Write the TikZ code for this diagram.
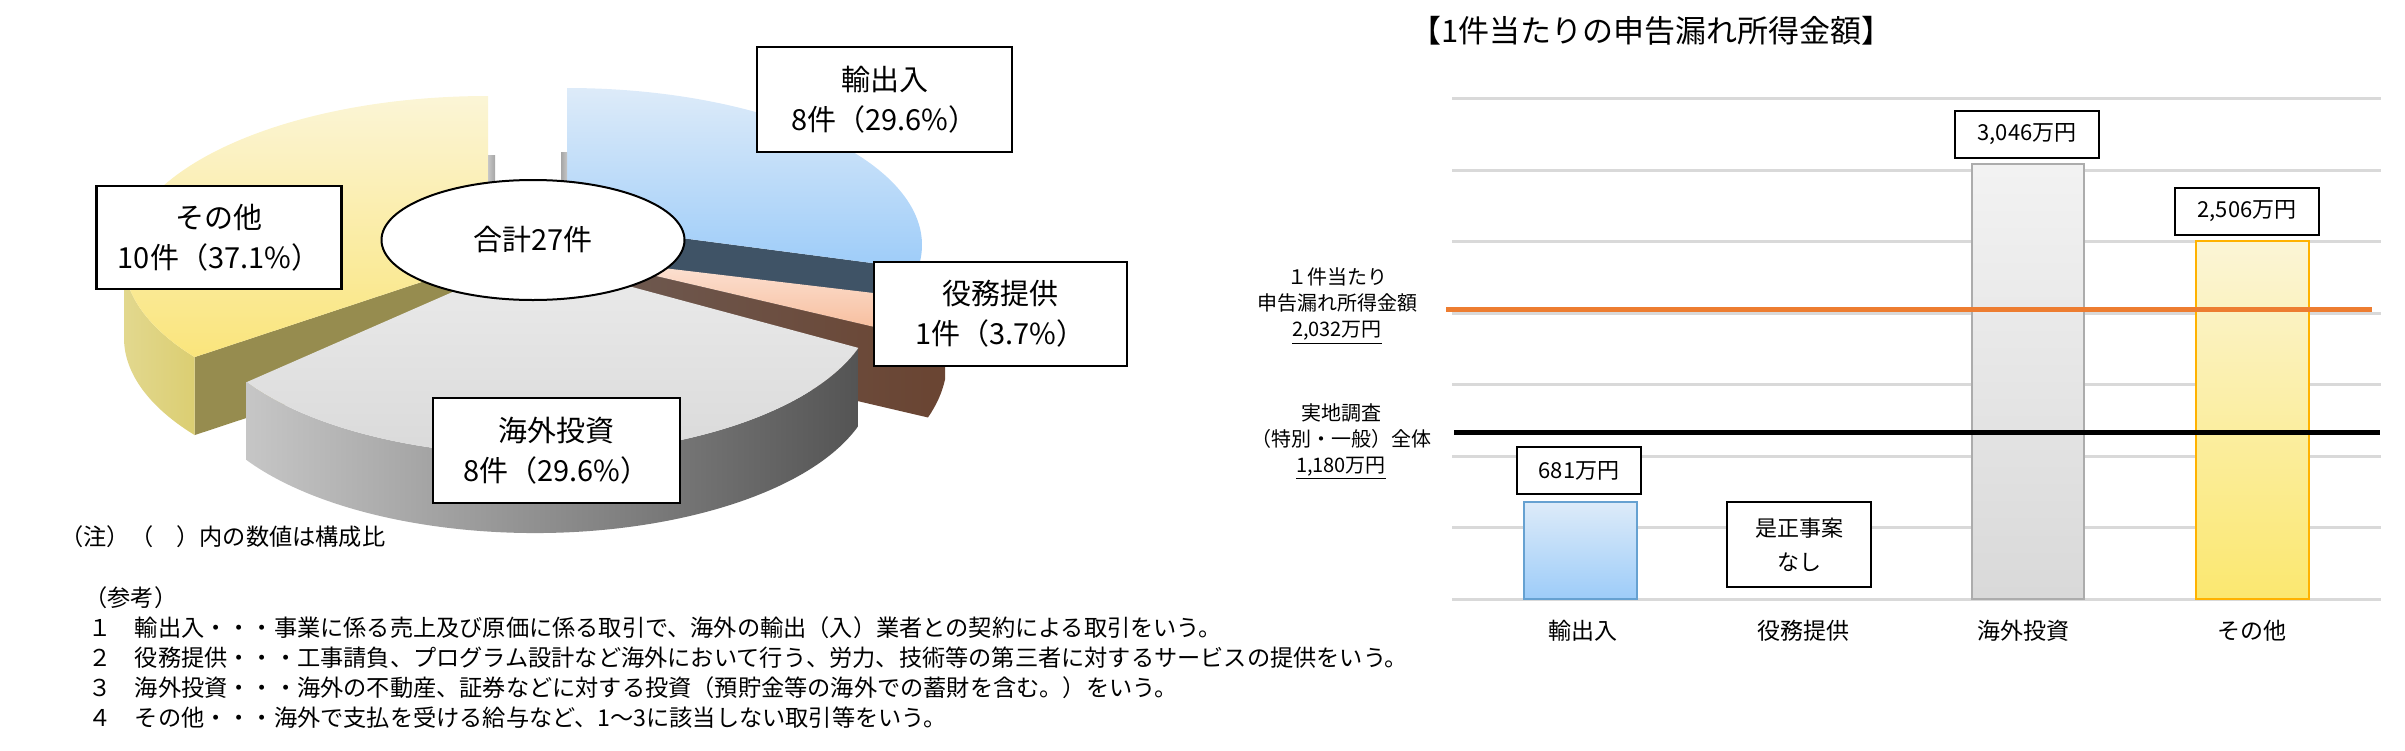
\documentclass[tikz,border=0pt]{standalone}
\usepackage{fontspec}
\setmainfont{Noto Sans CJK JP}
\usetikzlibrary{shapes.geometric,calc}
\definecolor{azulA}{HTML}{DDEBF9}
\definecolor{azulB}{HTML}{9DCCF9}
\definecolor{azulLado}{HTML}{3F5366}
\definecolor{rosaA}{HTML}{FCE4D7}
\definecolor{rosaB}{HTML}{F7B996}
\definecolor{marromA}{HTML}{6E5B53}
\definecolor{marromB}{HTML}{6A4533}
\definecolor{cinzaA}{HTML}{EBEBEB}
\definecolor{cinzaB}{HTML}{D8D8D8}
\definecolor{cinzaL}{HTML}{C6C6C6}
\definecolor{cinzaR}{HTML}{545454}
\definecolor{amarA}{HTML}{FBF5D6}
\definecolor{amarB}{HTML}{FAE57C}
\definecolor{amarBorda}{HTML}{DBCE72}
\definecolor{oliva}{HTML}{968C4F}
\definecolor{gradeCor}{HTML}{D9D9D9}
\definecolor{laranja}{HTML}{ED7D31}

\begin{document}
\begin{tikzpicture}[x=0.5pt, y=-0.5pt,
	rot/.style={draw, line width=1.2pt, fill=white, align=center, inner sep=0pt, font=\fontsize{14.5}{20}\selectfont},
	nota/.style={anchor=west, inner sep=0pt, font=\fontsize{11.6}{14}\selectfont},
	valor/.style={draw, line width=1pt, fill=white, align=center, inner sep=0pt, font=\fontsize{11}{14}\selectfont},
	grade/.style={draw=gradeCor, line width=1.5pt},
	cat/.style={inner sep=0pt, font=\fontsize{11.5}{14}\selectfont},
	media/.style={align=center, inner sep=0pt, font=\fontsize{10}{13}\selectfont}]
	\useasboundingbox (0,0) rectangle (2405,750);
	% Pizza
	\coordinate (Eb) at (567,245);
	\coordinate (Ab) at (567,223);
	\coordinate (bt) at ($(Eb)+(-90:355 and 157)$);
	\coordinate (bc) at ($(Eb)+(8.8:355 and 157)$);
	\coordinate (Ey) at (488,260);
	\coordinate (yt) at ($(Ey)+(-90:364 and 164)$);
	\coordinate (yl) at ($(Ey)+(180:364 and 164)$);
	\coordinate (yc) at ($(Ey)+(143.7:364 and 164)$);
	\coordinate (Ep) at (579,283);
	\coordinate (Ap) at (579,258);
	\coordinate (ps) at ($(Ep)+(5.97:368 and 178)$);
	\coordinate (pe) at ($(Ep)+(18.5:368 and 178)$);
	\coordinate (Eg) at (535,300);
	\coordinate (Ag) at (528,259);
	\coordinate (gl) at ($(Eg)+(148:340 and 155)$);
	\coordinate (gr) at ($(Eg)+(18:340 and 155)$);
	% 輸出入
	\fill[azulLado] (Ab) -- (bc) -- ++(0,78) -- ($(Ab)+(0,78)$) -- cycle;
	\shade[top color=azulA, bottom color=azulB] (Ab) -- (bt)
		arc[start angle=-90, end angle=8.8, x radius=355, y radius=157] -- cycle;
	\shade[left color=gray!70, right color=gray!45] (561,152) rectangle (567,195);
	% その他
	\fill[oliva] (Ey) -- (yc) -- ++(0,78) -- ($(Ey)+(0,78)$) -- cycle;
	\shade[left color=amarBorda!80!white, right color=amarBorda] (yl)
		arc[start angle=180, end angle=143.7, x radius=364, y radius=164] -- ++(0,78)
		arc[start angle=143.7, end angle=180, x radius=364, y radius=164] -- cycle;
	\shade[top color=amarA, bottom color=amarB] (Ey) -- (yt)
		arc[start angle=-90, end angle=-216.3, x radius=364, y radius=164] -- cycle;
	\shade[left color=gray!45, right color=gray!70] (488,155) rectangle (495,195);
	% 役務提供
	\shade[left color=marromA, right color=marromB] (Ap) -- (pe) -- ++(0,78) -- ($(Ap)+(0,78)$) -- cycle;
	\fill[marromB] (ps) arc[start angle=5.97, end angle=18.5, x radius=368, y radius=178] -- ++(0,78)
		arc[start angle=18.5, end angle=5.97, x radius=368, y radius=178] -- cycle;
	\shade[top color=rosaA, bottom color=rosaB] (Ap) -- (ps)
		arc[start angle=5.97, end angle=18.5, x radius=368, y radius=178] -- cycle;
	% 海外投資
	\shade[left color=cinzaL, right color=cinzaR] (gl)
		arc[start angle=148, end angle=18, x radius=340, y radius=155] -- ++(0,78)
		arc[start angle=18, end angle=148, x radius=340, y radius=155] -- cycle;
	\shade[top color=cinzaA, bottom color=cinzaB] (Ag) -- (gl)
		arc[start angle=148, end angle=18, x radius=340, y radius=155] -- cycle;
	% Rótulos
	\node[draw, ellipse, line width=1pt, fill=white, minimum width=151.5pt, minimum height=60pt,
		inner sep=0pt, font=\fontsize{14.5}{17}\selectfont] (total) at (533,240) {合計27件};
	\node[rot, minimum width=127.5pt, minimum height=52.5pt] (lbA) at (884.5,99.5) {輸出入\\8件（29.6\%）};
	\node[rot, minimum width=122.5pt, minimum height=51.5pt] (lbD) at (219,237.7) {その他\\10件（37.1\%）};
	\node[rot, minimum width=126.5pt, minimum height=52pt] (lbB) at (1000.5,314) {役務提供\\1件（3.7\%）};
	\node[rot, minimum width=123.5pt, minimum height=52.5pt] (lbC) at (556.5,450.5) {海外投資\\8件（29.6\%）};
	% Notas
	\node[nota] (n0) at (60,537) {（注）（　）内の数値は構成比};
	\node[nota] (n1) at (84,598) {（参考）};
	\node[nota] (n2) at (88,628) {１　輸出入・・・事業に係る売上及び原価に係る取引で、海外の輸出（入）業者との契約による取引をいう。};
	\node[nota] (n3) at (88,658) {２　役務提供・・・工事請負、プログラム設計など海外において行う、労力、技術等の第三者に対するサービスの提供をいう。};
	\node[nota] (n4) at (88,688) {３　海外投資・・・海外の不動産、証券などに対する投資（預貯金等の海外での蓄財を含む。）をいう。};
	\node[nota] (n5) at (88,718) {４　その他・・・海外で支払を受ける給与など、1～3に該当しない取引等をいう。};
	% Barras
	\node[anchor=west, inner sep=0pt, font=\fontsize{15.5}{18}\selectfont] (titulo) at (1410,31) {【1件当たりの申告漏れ所得金額】};
	\foreach \k in {0,...,7}
		\draw[grade] (1452,{599-71.5*\k}) -- (2381,{599-71.5*\k});
	\draw[line width=1pt, draw=blue!45!cyan!70!black!60, top color=azulA, bottom color=azulB] (1524,599) rectangle (1637,502);
	\draw[line width=1pt, draw=gray!65, top color=gray!10, bottom color=gray!30] (1972,599) rectangle (2084,164);
	\draw[line width=1pt, draw=orange!60!yellow, top color=amarA, bottom color=amarB!90!yellow] (2196,599) rectangle (2309,241);
	\draw[laranja, line width=2.5pt] (1446,309) -- (2372,309);
	\draw[black, line width=2.5pt] (1454,432) -- (2380,432);
	\node[media] (m1) at (1337,306) {１件当たり\\申告漏れ所得金額\\\underline{2,032万円}};
	\node[media] (m2) at (1341,441.7) {実地調査\\（特別・一般）全体\\\underline{1,180万円}};
	\node[valor, minimum width=62pt, minimum height=23.5pt] (v1) at (1579,470.5) {681万円};
	\node[valor, minimum width=72pt, minimum height=42.5pt, font=\fontsize{11}{17}\selectfont] (v2) at (1799,544.5) {是正事案\\なし};
	\node[valor, minimum width=72pt, minimum height=23.5pt] (v3) at (2027,134.5) {3,046万円};
	\node[valor, minimum width=72pt, minimum height=23.5pt] (v4) at (2247,211.5) {2,506万円};
	\node[cat] (c1) at (1583,631) {輸出入};
	\node[cat] (c2) at (1803,631) {役務提供};
	\node[cat] (c3) at (2023,631) {海外投資};
	\node[cat] (c4) at (2252,631) {その他};
\end{tikzpicture}
\end{document}
